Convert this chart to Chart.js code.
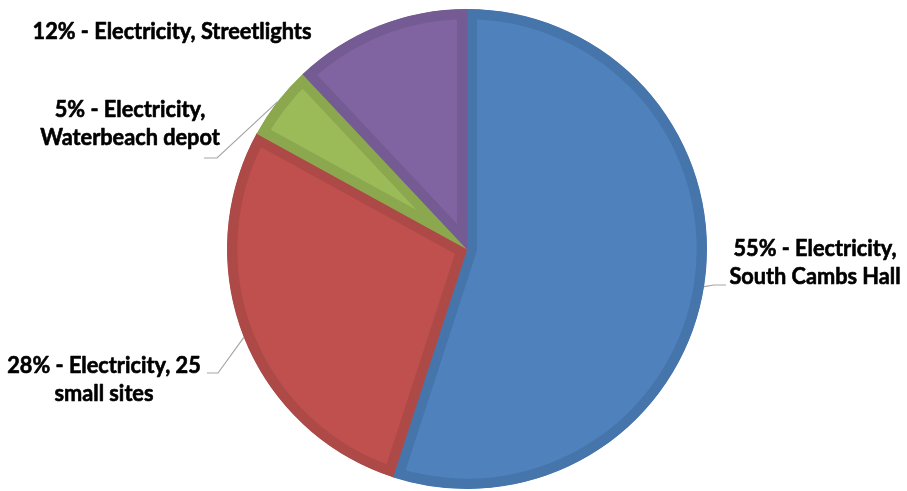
<!DOCTYPE html>
<html>
<head>
<meta charset="utf-8">
<script src="https://cdn.jsdelivr.net/npm/chart.js@4/dist/chart.umd.min.js"></script>
<style>
  html, body { margin: 0; padding: 0; background: #ffffff; }
  #c { display: block; }
</style>
</head>
<body>
<canvas id="c" width="907" height="491"></canvas>
<script>
// ---- data ----
const categories = [
  "Electricity, South Cambs Hall",
  "Electricity, 25 small sites",
  "Electricity, Waterbeach depot",
  "Electricity, Streetlights"
];
const values = [55, 28, 5, 12];
const labelLines = [
  ["55% - Electricity,", "South Cambs Hall"],
  ["28% - Electricity, 25", "small sites"],
  ["5% - Electricity,", "Waterbeach depot"],
  ["12% - Electricity, Streetlights"]
];

// ---- styles ----
const fillColors   = ["#4F81BD", "#C0504D", "#9BBB59", "#8064A2"];
const borderColors = ["#4675AB", "#AD4A47", "#8BA84F", "#755B93"];
// label placement (center x, first baseline) and leader line geometry
const labelLayout = [
  { cx: 815, y: 256, leader: [[714, 285], [726, 285]] },
  { cx: 104, y: 373, leader: [[218, 373], [207, 373]] },
  { cx: 130, y: 117, leader: [[217, 158], [204, 158]] },
  { cx: 172, y: 39,  leader: null }
];
const FONT_FAMILY = "Lato, 'Open Sans', sans-serif";
const LINE_HEIGHT = 28;
const V_STRETCH = 1.09;

const labelPlugin = {
  id: 'pieLabels',
  afterDraw(chart) {
    const ctx = chart.ctx;
    const meta = chart.getDatasetMeta(0);
    ctx.save();
    ctx.font = "bold 100px " + FONT_FAMILY;
    const w = ctx.measureText(labelLines[3][0]).width;
    const size = 100 * 279 / w;
    ctx.font = "bold " + size.toFixed(2) + "px " + FONT_FAMILY;
    meta.data.forEach((arc, i) => {
      const p = arc.getProps(['x', 'y', 'startAngle', 'endAngle', 'outerRadius'], true);
      const mid = (p.startAngle + p.endAngle) / 2;
      const ex = p.x + Math.cos(mid) * p.outerRadius;
      const ey = p.y + Math.sin(mid) * p.outerRadius;
      const L = labelLayout[i];
      if (L.leader) {
        ctx.beginPath();
        ctx.strokeStyle = "#A6A6A6";
        ctx.lineWidth = 1.2;
        ctx.moveTo(ex, ey);
        L.leader.forEach(pt => ctx.lineTo(pt[0], pt[1]));
        ctx.stroke();
      }
      labelLines[i].forEach((line, k) => {
        ctx.save();
        ctx.translate(L.cx, L.y + k * LINE_HEIGHT);
        ctx.scale(1, V_STRETCH);
        ctx.textAlign = "center";
        ctx.textBaseline = "alphabetic";
        ctx.fillStyle = "#000000";
        ctx.strokeStyle = "#000000";
        ctx.lineWidth = 0.6;
        ctx.lineJoin = "round";
        ctx.fillText(line, 0, 0);
        ctx.strokeText(line, 0, 0);
        ctx.restore();
      });
    });
    ctx.restore();
  }
};

new Chart(document.getElementById('c'), {
  type: 'pie',
  data: {
    labels: categories,
    datasets: [{
      data: values,
      backgroundColor: fillColors,
      borderColor: borderColors,
      borderWidth: 10,
      borderAlign: 'inner'
    }]
  },
  options: {
    responsive: false,
    animation: false,
    layout: { padding: { left: 227, right: 200, top: 9, bottom: 2 } },
    plugins: {
      legend: { display: false },
      tooltip: { enabled: false }
    }
  },
  plugins: [labelPlugin]
});
</script>
</body>
</html>
